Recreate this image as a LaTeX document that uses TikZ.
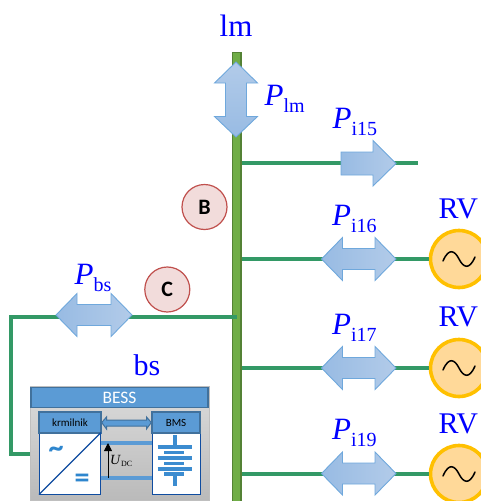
\documentclass[tikz,border=0pt]{standalone}
\usepackage{fontspec}
\setmainfont{Liberation Serif}
\newfontfamily\carlito{Carlito}
\usetikzlibrary{arrows.meta}
\definecolor{txtblue}{HTML}{0000FF}
\definecolor{busfill}{HTML}{70AD47}
\definecolor{busline}{HTML}{548235}
\definecolor{branchc}{HTML}{339966}
\definecolor{arrowl}{HTML}{98BBE3}
\definecolor{arrowr}{HTML}{B2CBE9}
\definecolor{arrowb}{HTML}{6FA8DC}
\definecolor{hdr}{HTML}{5B9BD5}
\definecolor{hdrb}{HTML}{41719C}
\definecolor{conv}{HTML}{0F4CA0}
\definecolor{symb}{HTML}{2E86CE}
\definecolor{tagfill}{HTML}{F2DCDB}
\definecolor{tagline}{HTML}{C0504D}
\definecolor{rvline}{HTML}{FFC000}
\definecolor{rvfill}{HTML}{FFD999}
\newcommand{\Psym}[1]{{\fontsize{31}{31}\selectfont\textit{P}}\raisebox{-7pt}{\fontsize{20}{20}\selectfont #1}}
% double arrow, horizontal: centre y, left tip, right tip
\newcommand{\hdarrow}[3]{\path[flowarrow,left color=arrowl,right color=arrowr]
 (#2,#1) -- (#2+21,#1-21.5) -- (#2+21,#1-10.5) -- (#3-21,#1-10.5) -- (#3-21,#1-21.5)
 -- (#3,#1) -- (#3-21,#1+21.5) -- (#3-21,#1+10.5) -- (#2+21,#1+10.5) -- (#2+21,#1+21.5) -- cycle;}
\tikzset{
 flowarrow/.style={draw=arrowb,line width=0.9pt,line join=miter},
 busbar/.style={draw=busline,fill=busfill,line width=1.6pt,minimum width=8.5pt,minimum height=452pt,inner sep=0pt,outer sep=0.8pt},
 branch/.style={draw=branchc,line width=4.2pt},
 tag/.style={circle,draw=tagline,fill=tagfill,line width=1.2pt,minimum size=45pt,inner sep=0pt,font=\carlito\bfseries\fontsize{22}{22}\selectfont},
 rvsrc/.style={circle,draw=rvline,fill=rvfill,line width=3.6pt,minimum size=57pt,inner sep=0pt},
 label/.style={text=txtblue,inner sep=0pt,anchor=base west},
 big/.style={font=\fontsize{30}{30}\selectfont},
 hdrbox/.style={draw=hdrb,fill=hdr,line width=1.4pt,inner sep=0pt},
 whitebox/.style={draw=conv,fill=white,line width=1pt,inner sep=0pt},
 dcbar/.style={draw=hdr,line width=3.4pt},
 cell/.style={draw=symb!70!hdr,line width=3.6pt},
 sinec/.style={draw=black,line width=1.5pt,line cap=round},
}
\begin{document}
\begin{tikzpicture}[x=1pt,y=-1pt]
\useasboundingbox (0,0) rectangle (481,501);
\clip (0,0) rectangle (481,501);
% bus
\node[busbar,anchor=north] (bus) at (236.8,51.5) {};
% sources
\node[rvsrc] (rv16) at (459,259) {};
\node[rvsrc] (rv17) at (459,368) {};
\node[rvsrc] (rv19) at (459,474) {};
\coordinate (end15) at (418,163);
\coordinate (batt) at (33,454);
\coordinate (corner) at (11,317);
% branches
\draw[branch] (end15 -| bus.east) -- (end15);
\draw[branch] (rv16.west -| bus.east) -- (rv16.west);
\draw[branch] (rv17.west -| bus.east) -- (rv17.west);
\draw[branch] (rv19.west -| bus.east) -- (rv19.west);
\draw[branch] (corner -| bus) -- (corner) -- (corner |- batt) -- (batt);
% sine symbols
\foreach \y in {259,368,474}{
 \draw[sinec] (443,\y+2) .. controls (449,\y-12) and (455,\y-8) .. (459,\y) .. controls (463,\y+8) and (469,\y+12) .. (475,\y-2);
}
% power arrows
\path[flowarrow,top color=arrowr,bottom color=arrowl]
 (236,62) -- (257.5,83) -- (246.5,83) -- (246.5,116.5) -- (257.5,116.5) -- (236,137)
 -- (214.5,116.5) -- (225.5,116.5) -- (225.5,83) -- (214.5,83) -- cycle;
\path[flowarrow,left color=arrowl,right color=arrowr]
 (341,152) -- (373,152) -- (373,140.5) -- (396,163.5) -- (373,186) -- (373,175) -- (341,175) -- cycle;
\hdarrow{259}{321.5}{396}
\hdarrow{368}{321.5}{396}
\hdarrow{473.5}{321.5}{396}
\hdarrow{315}{56}{132}
% labels
\node[text=txtblue,inner sep=0pt,anchor=base,font=\fontsize{31}{31}\selectfont] (lmlab) at (236,36.5) {lm};
\node[label] (plm) at (264.5,105) {\Psym{lm}};
\node[label] (p15) at (332.5,128) {\Psym{i15}};
\node[label] (p16) at (332,225) {\Psym{i16}};
\node[label] (p17) at (332,334) {\Psym{i17}};
\node[label] (p19) at (332,439) {\Psym{i19}};
\node[label] (pbs) at (74.5,284) {\Psym{bs}};
\node[label,big] (bslab) at (133.5,375) {bs};
\node[label,big] (rvl16) at (438.5,218) {RV};
\node[label,big] (rvl17) at (438.5,326) {RV};
\node[label,big] (rvl19) at (438.5,433) {RV};
% tags
\node[tag] (B) at (204.5,207) {B};
\node[tag] (C) at (167.3,289.5) {C};
% BESS panel
\path[draw=black!25,top color=black!14,bottom color=black!27,line width=1pt] (30,386.5) rectangle (209,500);
\node[hdrbox,minimum width=177pt,minimum height=20.5pt,text=white,font=\carlito\fontsize{17.5}{17.5}\selectfont] (bess) at (119.5,397.5) {BESS};
\node[whitebox,minimum width=61pt,minimum height=61pt] (conv) at (70,463.5) {};
\node[whitebox,minimum width=48pt,minimum height=61pt] (bat) at (176,463.5) {};
\node[hdrbox,minimum width=62pt,minimum height=21pt,font=\carlito\fontsize{11}{11}\selectfont] (krm) at (70,422.5) {krmilnik};
\node[hdrbox,minimum width=48pt,minimum height=21pt,font=\carlito\fontsize{11}{11}\selectfont] (bms) at (176,422.5) {BMS};
\draw[conv,line width=1.3pt] (conv.south west) -- (conv.north east);
\node[text=symb,inner sep=0pt,font=\carlito\bfseries\fontsize{30}{30}\selectfont] (acs) at (56,452) {\char`~};
\node[text=symb,inner sep=0pt,font=\carlito\bfseries\fontsize{30}{30}\selectfont] (dcs) at (82,481) {=};
% DC link
\coordinate (dctop) at (100.5,443);
\coordinate (dcbot) at (100.5,478);
\draw[dcbar] (dctop) -- (dctop -| bat.west);
\draw[dcbar] (dcbot) -- (dcbot -| bat.west);
\draw[black,line width=0.9pt,-{Triangle[length=8pt,width=8pt]}] (108,477.5) -- (108,443);
\node[anchor=base west,inner sep=0pt] (udc) at (110,464) {{\fontsize{14}{14}\selectfont\textit{U}}\raisebox{-2.5pt}{\fontsize{8}{8}\selectfont DC}};
% comm arrow
\path[draw=hdrb,fill=hdr,line width=1pt]
 (krm.east) -- (106.5,417) -- (106.5,420) -- (146.5,420) -- (146.5,417) -- (bms.west) -- (146.5,429) -- (146.5,426) -- (106.5,426) -- (106.5,429) -- cycle;
% battery
\draw[cell] (175,435) -- (175,486);
\fill[white] (157,449) rectangle (193,476);
\foreach \y in {447,458,469}{\draw[cell] (157.5,\y) -- (192,\y);}
\foreach \y in {452.5,463.5,474}{\draw[cell] (164,\y) -- (184,\y);}
\end{tikzpicture}
\end{document}
